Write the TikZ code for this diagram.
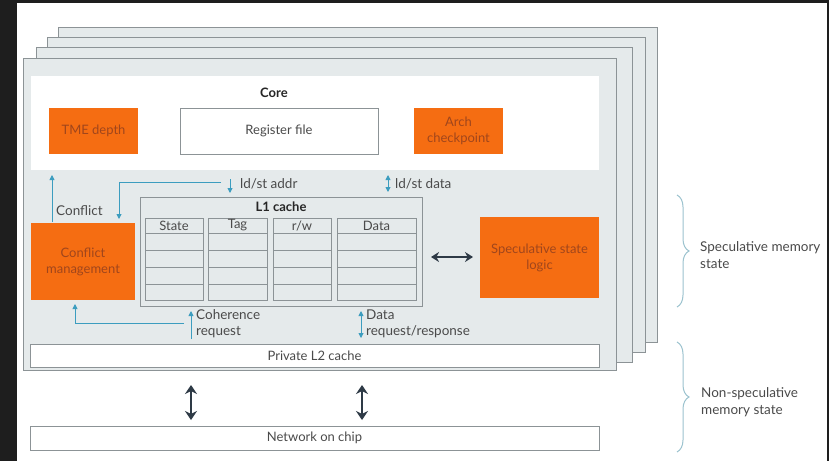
\documentclass[tikz,border=0pt]{standalone}
\usepackage{fontspec}
\setmainfont{Lato}
\usetikzlibrary{arrows.meta,decorations.pathreplacing}
\definecolor{darkband}{HTML}{1E1E1E}
\definecolor{pagefill}{HTML}{E5EAEB}
\definecolor{pageline}{HTML}{8C9396}
\definecolor{orangebox}{HTML}{F56D12}
\definecolor{orangetext}{HTML}{A0461C}
\definecolor{bluearrow}{HTML}{3C9DBF}
\definecolor{txtgray}{HTML}{4A4A4A}
\definecolor{darkarrow}{HTML}{2E3A46}
\definecolor{bracecol}{HTML}{9CC3CF}
\tikzset{
  pagebox/.style={fill=pagefill,draw=pageline,line width=0.9pt},
  orangenode/.style={fill=orangebox,draw=none,text=orangetext,align=center,inner sep=0pt,font=\fontsize{13}{16}\selectfont},
  whitebox/.style={fill=white,draw=pageline,line width=0.8pt,text=txtgray,inner sep=0pt,font=\fontsize{13}{16}\selectfont},
  cell/.style={fill=pagefill,draw=pageline,line width=0.8pt,inner sep=0pt,text=txtgray,font=\fontsize{13}{14}\selectfont},
  lbl/.style={text=txtgray,inner sep=0pt,align=left,font=\fontsize{13.5}{16}\selectfont},
  hdr/.style={text=black!85,inner sep=0pt,font=\bfseries\fontsize{13}{15}\selectfont},
  bluearr/.style={draw=bluearrow,line width=0.9pt,-{Triangle[length=5pt,width=5pt]}},
  bluedbl/.style={draw=bluearrow,line width=0.9pt,{Triangle[length=5pt,width=5pt]}-{Triangle[length=5pt,width=5pt]}},
  bigdbl/.style={draw=darkarrow,line width=2.6pt,{Stealth[length=9pt,width=12pt]}-{Stealth[length=9pt,width=12pt]}},
  sidedbl/.style={draw=darkarrow,line width=1.8pt,{Stealth[length=8pt,width=10pt]}-{Stealth[length=8pt,width=10pt]}},
  bracestyle/.style={draw=bracecol,line width=1pt,decorate,decoration={brace,amplitude=12pt}},
  sidelbl/.style={text=txtgray,inner sep=0pt,align=left,font=\fontsize{13.5}{17}\selectfont},
}
\begin{document}
\begin{tikzpicture}[x=1pt,y=-1pt]
\useasboundingbox (0,0) rectangle (829,461);
\fill[white] (0,0) rectangle (829,461);
\fill[darkband] (0,0) rectangle (17,461);
\fill[darkband] (0,0) rectangle (829,3);
\fill[darkband] (827,0) rectangle (829,461);
% stacked pages
\draw[pagebox] (58,27) rectangle (657,342);
\draw[pagebox] (47,37) rectangle (645,352);
\draw[pagebox] (36,47) rectangle (632,362);
\draw[pagebox] (23,58) rectangle (616,370);
% core region
\node[fill=white,draw=none,minimum width=568pt,minimum height=94pt,inner sep=0pt] (core) at (315,123) {};
\node[hdr] (corelbl) at (274,93) {Core};
\node[orangenode,minimum width=89pt,minimum height=46pt] (tme) at (93.5,131) {TME depth};
\node[whitebox,minimum width=198pt,minimum height=46pt] (reg) at (279,131) {Register file};
\node[orangenode,minimum width=89pt,minimum height=46pt] (arch) at (458.5,131) {Arch\\checkpoint};
% conflict management
\node[orangenode,minimum width=104pt,minimum height=77pt] (cm) at (83,261.5) {Conflict\\management};
% L1 cache
\node[fill=pagefill,draw=pageline,line width=0.8pt,minimum width=282pt,minimum height=109pt,inner sep=0pt] (l1) at (281,251.5) {};
\node[hdr] (l1lbl) at (281,207) {L1 cache};
% table
\foreach \xa/\xb/\t [count=\c] in {145/203/State,208/267/Tag,273/331/r\slash w,337/416/Data}{
  \node[cell,minimum width={\xb-\xa},minimum height=15pt] (h\c) at ({(\xa+\xb)/2},225.5) {\t};
  \foreach \ya/\yb [count=\r] in {233/250,250/267,267/284,284/300}{
    \node[cell,minimum width={\xb-\xa},minimum height={\yb-\ya}] (c\c\r) at ({(\xa+\xb)/2},{(\ya+\yb)/2}) {};
  }
}
% speculative state logic
\node[orangenode,minimum width=119pt,minimum height=81pt] (spec) at (539.5,257.5) {Speculative state\\logic};
% L2 and NoC
\node[whitebox,minimum width=569pt,minimum height=23pt] (l2) at (314.5,355.5) {Private L2 cache};
\node[whitebox,minimum width=569pt,minimum height=24pt] (noc) at (314.5,438) {Network on chip};
% ld/st addr
\coordinate (addrtop) at (230,179);
\coordinate (addrbot) at (230,193);
\draw[bluearr] (addrtop) -- (addrbot);
\node[lbl,anchor=west] (addrlbl) at (240,184) {ld/st addr};
\coordinate (lstart) at (221,182);
\coordinate (lend) at (119,219);
\draw[bluearr] (lstart) -| (lend);
% ld/st data
\coordinate (datatop) at (388,175);
\coordinate (databot) at (388,192);
\draw[bluedbl] (datatop) -- (databot);
\node[lbl,anchor=west] (datalbl) at (395,184) {ld/st data};
% conflict
\coordinate (confbot) at (52,222);
\coordinate (conftop) at (52,175);
\draw[bluearr] (confbot) -- (conftop);
\node[lbl,anchor=west] (conflbl) at (56,211) {Conflict};
% coherence request
\coordinate (cohbot) at (191,339);
\coordinate (cohtop) at (191,311);
\draw[bluearr] (cohbot) -- (cohtop);
\node[lbl,anchor=west] (cohlbl) at (196,324) {Coherence\\request};
\coordinate (cohl) at (184,323);
\coordinate (cohend) at (75,304);
\draw[bluearr] (cohl) -| (cohend);
% data request/response
\coordinate (drtop) at (361,311);
\coordinate (drbot) at (361,338);
\draw[bluedbl] (drtop) -- (drbot);
\node[lbl,anchor=west] (drlbl) at (366,324) {Data\\request/response};
% L1 <-> spec
\coordinate (sl) at (431,257);
\coordinate (sr) at (473,257);
\draw[sidedbl] (sl) -- (sr);
% big arrows L2 <-> NoC
\coordinate (a1t) at (191,385);
\coordinate (a1b) at (191,420);
\coordinate (a2t) at (362,385);
\coordinate (a2b) at (362,420);
\draw[bigdbl] (a1t) -- (a1b);
\draw[bigdbl] (a2t) -- (a2b);
% braces
\coordinate (b1t) at (677,195);
\coordinate (b1b) at (677,307);
\draw[bracestyle] (b1t) -- (b1b);
\node[sidelbl,anchor=west] (b1lbl) at (700,255) {Speculative memory\\state};
\coordinate (b2t) at (677,342);
\coordinate (b2b) at (677,452);
\draw[bracestyle] (b2t) -- (b2b);
\node[sidelbl,anchor=west] (b2lbl) at (701,402) {Non-speculative\\memory state};
\end{tikzpicture}
\end{document}
